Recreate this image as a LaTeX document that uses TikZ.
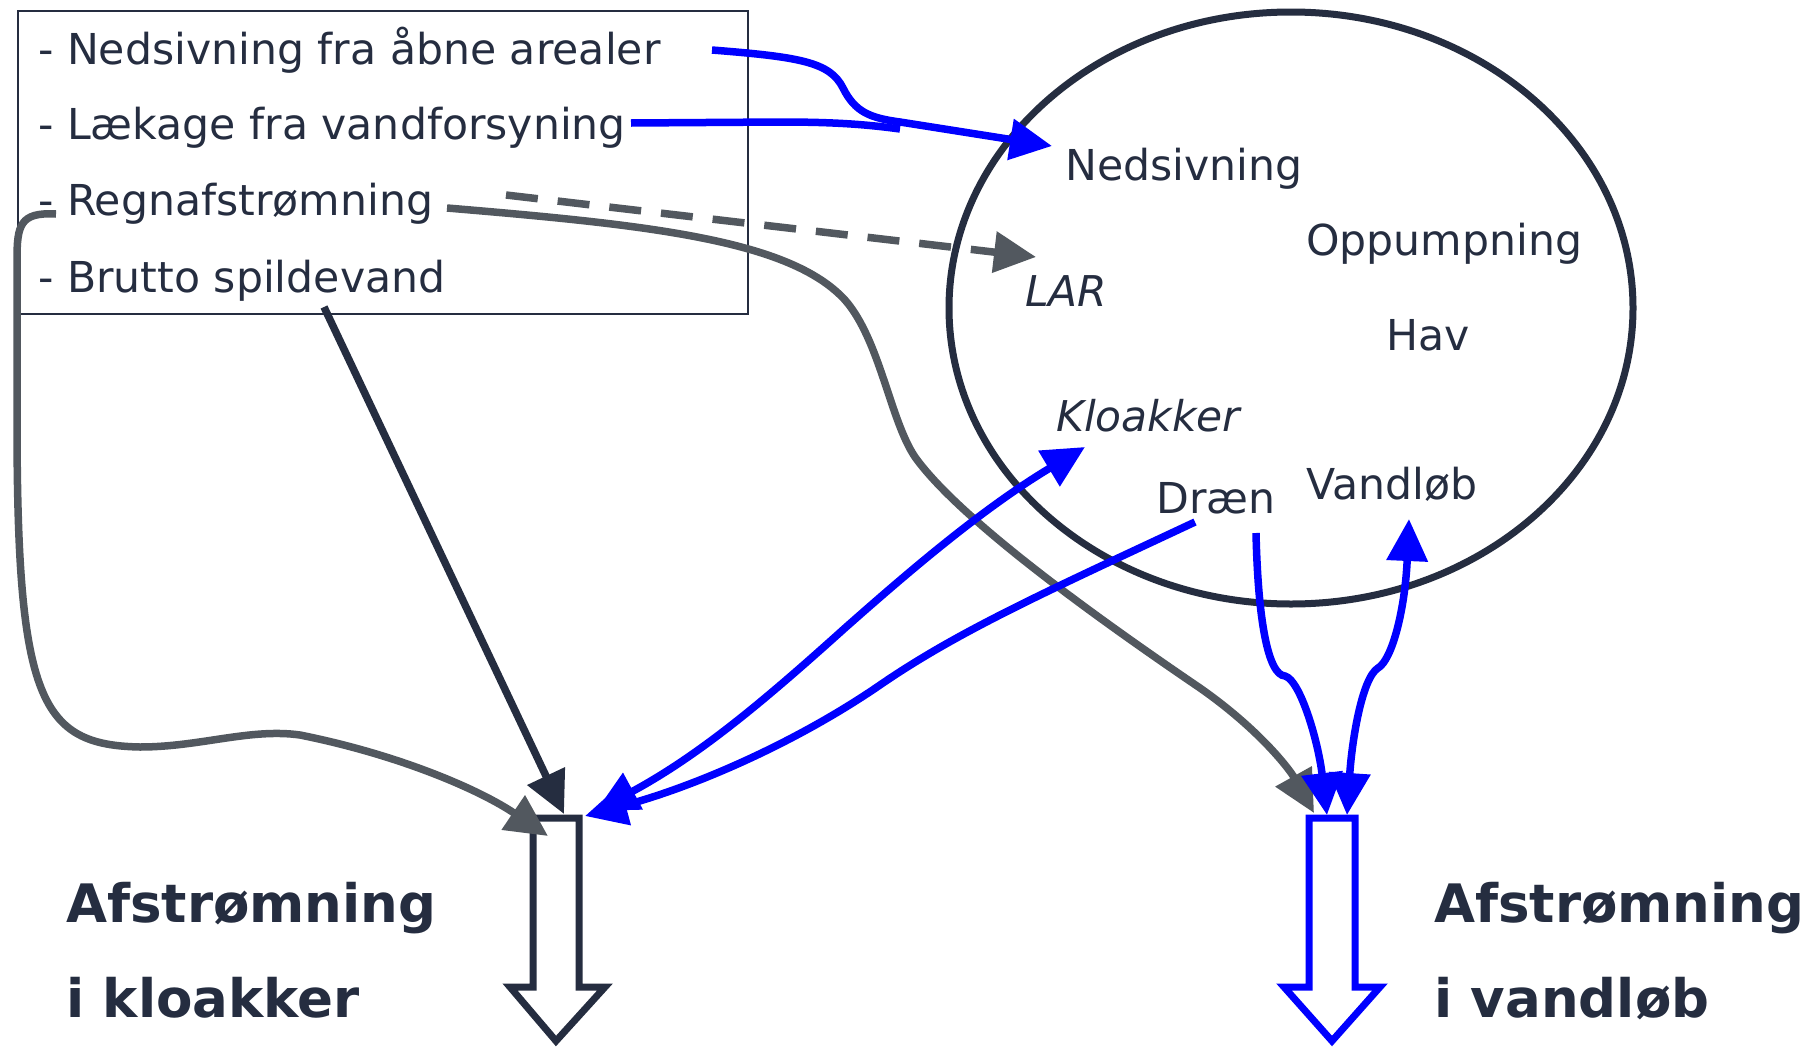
\documentclass[tikz,border=0pt]{standalone}
\usepackage{fontspec}
\setmainfont{DejaVu Sans}
\usetikzlibrary{arrows.meta}
\definecolor{navy}{RGB}{37,45,64}
\definecolor{grayc}{RGB}{82,88,95}
\definecolor{bluec}{RGB}{0,0,255}
\tikzset{
  txt/.style={anchor=base west, inner sep=0pt, text=navy, font=\fontsize{42.6}{50}\selectfont},
  itxt/.style={txt, font=\fontsize{42.4}{50}\selectfont\itshape},
  bigtxt/.style={anchor=base west, inner sep=0pt, text=navy, font=\fontsize{53}{60}\selectfont\bfseries},
  bluearrow/.style={draw=bluec, line width=7.5pt, -{Triangle[length=42pt,width=40pt]}},
  bluedouble/.style={draw=bluec, line width=7.5pt, {Triangle[length=42pt,width=40pt]}-{Triangle[length=42pt,width=40pt]}},
  grayarrow/.style={draw=grayc, line width=7.5pt, -{Triangle[length=42pt,width=40pt]}},
  navyarrow/.style={draw=navy, line width=7.5pt, -{Triangle[length=42pt,width=40pt]}},
  blockarrow/.style={line width=7pt, fill=white, line join=miter},
}
\begin{document}
\begin{tikzpicture}[x=1pt,y=-1pt]
\useasboundingbox (0,0) rectangle (1816,1047);
\fill[white] (0,0) rectangle (1816,1047);

% list box
\node[draw=navy, line width=1.5pt, minimum width=730pt, minimum height=303pt, anchor=north west, inner sep=0pt] (box) at (17,10) {};
\node[txt] (l1) at (38,64) {- Nedsivning fra åbne arealer};
\node[txt] (l2) at (38,139) {- Lækage fra vandforsyning};
\node[txt] (l3) at (38,215) {- Regnafstrømning};
\node[txt] (l4) at (38,292) {- Brutto spildevand};

% ellipse
\draw[navy, line width=7pt] (1291,308) ellipse [x radius=342, y radius=296];
\node[txt] (ned) at (1065,180) {Nedsivning};
\node[txt] (opp) at (1306,255) {Oppumpning};
\node[txt] (hav) at (1386,350) {Hav};
\node[itxt] (lar) at (1025,306) {LAR};
\node[itxt] (klo) at (1056,431) {Kloakker};
\node[txt] (dra) at (1156,513) {Dræn};
\node[txt] (van) at (1306,499) {Vandløb};

% block arrows
\draw[blockarrow, draw=navy] (533,818) -- (579,818) -- (579,987) -- (605,987) -- (556,1041) -- (510,987) -- (533,987) -- cycle;
\draw[blockarrow, draw=bluec] (1309,818) -- (1355,818) -- (1355,987) -- (1380,987) -- (1332,1041) -- (1284,987) -- (1309,987) -- cycle;
\coordinate (kltop) at (556,818);
\coordinate (vltop) at (1332,818);

\node[bigtxt] (a1) at (66,922) {Afstrømning};
\node[bigtxt] (a2) at (66,1017) {i kloakker};
\node[bigtxt] (a3) at (1434,922) {Afstrømning};
\node[bigtxt] (a4) at (1434,1017) {i vandløb};

% named free ends
\coordinate (s1) at (712,50);
\coordinate (s2) at (631,123);
\coordinate (s3d) at (506,195);
\coordinate (s3) at (447,208);
\coordinate (s3l) at (56,214);
\coordinate (s4) at (324,307);
\coordinate (nedtip) at (1052,146);
\coordinate (lartip) at (1036,257);
\coordinate (klotip) at (1085,447);
\coordinate (drastart) at (1195,522);
\coordinate (dra2) at (1256,533);
\coordinate (vantip) at (1409,519);

% blue connectors to Nedsivning
\draw[bluearrow] (s1) .. controls (800,57) and (830,62) .. (843,88)
   .. controls (855,112) and (870,118) .. (900,122) -- (nedtip);
\draw[draw=bluec, line width=7.5pt] (s2) -- (780,122) .. controls (840,122) and (870,125) .. (900,129);

% dashed to LAR
\draw[grayarrow, dash pattern=on 32pt off 20pt] (s3d) -- (lartip);

% gray Regnafstroemning to vandloeb
\draw[grayarrow] (s3) .. controls (650,225) and (790,240) .. (845,300)
   .. controls (880,340) and (890,420) .. (915,457)
   .. controls (960,520) and (1100,620) .. (1200,688)
   .. controls (1260,730) and (1290,770) .. (1314,813);

% gray left loop to kloakker
\draw[grayarrow] (s3l) .. controls (20,212) and (17,225) .. (17,260) -- (17,420)
   .. controls (17,700) and (40,745) .. (140,747)
   .. controls (200,747) and (250,728) .. (300,735)
   .. controls (400,755) and (480,790) .. (548,836);

% Brutto spildevand
\draw[navyarrow] (s4) -- (564,814);

% Kloakker double
\draw[bluedouble] (596,811) .. controls (700,755) and (765,700) .. (845,628)
   .. controls (905,575) and (980,510) .. (klotip);
% Draen to kloakker
\draw[bluearrow] (drastart) .. controls (1050,590) and (960,630) .. (880,685)
   .. controls (800,740) and (700,785) .. (585,816);

% Draen to vandloeb block
\draw[bluearrow] (dra2) .. controls (1258,620) and (1268,675) .. (1285,676)
   .. controls (1300,680) and (1318,740) .. (1327,815);
% Vandloeb double
\draw[bluedouble] (1347,815) .. controls (1352,740) and (1362,678) .. (1378,668)
   .. controls (1392,660) and (1405,610) .. (vantip);
\end{tikzpicture}
\end{document}
